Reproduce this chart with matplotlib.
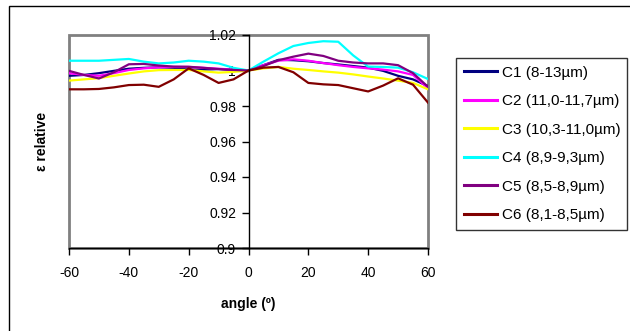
import matplotlib
matplotlib.use("Agg")
import matplotlib.pyplot as plt
from matplotlib.patches import Rectangle
from matplotlib.ticker import FuncFormatter

plt.rcParams['font.family'] = ['Liberation Sans', 'DejaVu Sans']
plt.rcParams['axes.unicode_minus'] = False

angles = [-60, -55, -50, -45, -40, -35, -30, -25, -20, -15, -10, -5, 0,
          5, 10, 15, 20, 25, 30, 35, 40, 45, 50, 55, 60]

c1 = [0.9970, 0.9975, 0.9985, 0.9998, 1.0010, 1.0015, 1.0018, 1.0015, 1.0005, 1.0005, 1.0008, 1.0003, 1.0,
      1.0030, 1.0060, 1.0058, 1.0052, 1.0042, 1.0034, 1.0025, 1.0016, 0.9998, 0.9970, 0.9950, 0.9912]
c2 = [0.9985, 0.9975, 0.9970, 0.9985, 1.0003, 1.0012, 1.0018, 1.0020, 1.0020, 1.0015, 1.0010, 1.0005, 1.0,
      1.0030, 1.0055, 1.0063, 1.0055, 1.0042, 1.0030, 1.0020, 1.0012, 1.0005, 0.9995, 0.9975, 0.9900]
c3 = [0.9943, 0.9950, 0.9957, 0.9970, 0.9983, 0.9995, 1.0002, 1.0003, 1.0003, 0.9995, 0.9988, 0.9992, 1.0,
      1.0012, 1.0020, 1.0010, 1.0003, 0.9995, 0.9988, 0.9978, 0.9966, 0.9955, 0.9943, 0.9930, 0.9894]
c4 = [1.0055, 1.0055, 1.0055, 1.0060, 1.0065, 1.0050, 1.0040, 1.0045, 1.0055, 1.0050, 1.0040, 1.0015, 1.0,
      1.0050, 1.0097, 1.0138, 1.0155, 1.0165, 1.0162, 1.0085, 1.0022, 1.0020, 1.0016, 0.9990, 0.9952]
c5 = [0.9998, 0.9975, 0.9955, 0.9990, 1.0035, 1.0037, 1.0028, 1.0022, 1.0021, 1.0015, 1.0008, 1.0003, 1.0,
      1.0025, 1.0058, 1.0078, 1.0095, 1.0082, 1.0055, 1.0045, 1.0040, 1.0040, 1.0030, 0.9985, 0.9908]
c6 = [0.9894, 0.9894, 0.9896, 0.9905, 0.9918, 0.9920, 0.9908, 0.9950, 1.0012, 0.9975, 0.9930, 0.9950, 1.0,
      1.0016, 1.0020, 0.9990, 0.9930, 0.9922, 0.9918, 0.9900, 0.9882, 0.9915, 0.9956, 0.9920, 0.9819]

series = [c1, c2, c3, c4, c5, c6]
labels = ['C1 (8-13µm)', 'C2 (11,0-11,7µm)', 'C3 (10,3-11,0µm)',
          'C4 (8,9-9,3µm)', 'C5 (8,5-8,9µm)', 'C6 (8,1-8,5µm)']
colors = ['#000080', '#FF00FF', '#FFFF00', '#00FFFF', '#800080', '#800000']

W, H = 630, 331
fig = plt.figure(figsize=(6.3, 3.31), dpi=100)

# outer chart frame (runs off the right and bottom edges)
fig.patches.append(Rectangle((9 / W, -0.2), 1.2, 1.2 - 6 / H, transform=fig.transFigure,
                             fill=False, edgecolor='black', linewidth=1))

ax = fig.add_axes([69 / W, 1 - 248 / H, (428 - 69) / W, (248 - 35) / H])

lines = []
for y, lab, col in zip(series, labels, colors):
    l, = ax.plot(angles, y, color=col, lw=1.6, label=lab)
    lines.append(l)

ax.set_xlim(-60, 60)
ax.set_ylim(0.9, 1.02)
ax.set_xticks(range(-60, 61, 20))
ax.set_yticks([0.9, 0.92, 0.94, 0.96, 0.98, 1.0, 1.02])
ax.yaxis.set_major_formatter(FuncFormatter(lambda v, p: '%g' % round(v, 2)))

# gray plot-area border
ax.add_patch(Rectangle((0, 0), 1, 1, transform=ax.transAxes, fill=False,
                       edgecolor='#808080', linewidth=2, zorder=0.5, clip_on=False))
for s in ['top', 'right']:
    ax.spines[s].set_visible(False)
ax.spines['left'].set_position(('data', 0))
ax.spines['left'].set_linewidth(1)
ax.spines['bottom'].set_linewidth(1)
ax.tick_params(axis='both', direction='out', length=5, width=1, labelsize=10)
ax.tick_params(axis='x', pad=8)
ax.tick_params(axis='y', pad=4)

ax.set_xlabel('angle (º)', fontsize=10, fontweight='bold', labelpad=12)
fig.text(42 / W, 1 - 141 / H, 'ε relative', rotation=90, fontsize=10, fontweight='bold',
         ha='center', va='center')

leg = fig.legend(handles=lines, loc='upper left',
                 bbox_to_anchor=(456 / W, 1 - 58 / H, (627 - 456) / W, 0), mode='expand',
                 fontsize=11, frameon=True, fancybox=False, edgecolor='black',
                 borderpad=0.5, labelspacing=0.95, handlelength=2.2, handletextpad=0.3,
                 borderaxespad=0)
leg.get_frame().set_linewidth(1)
for h in leg.legend_handles:
    h.set_linewidth(2.2)

fig.savefig('out.png', dpi=100)
